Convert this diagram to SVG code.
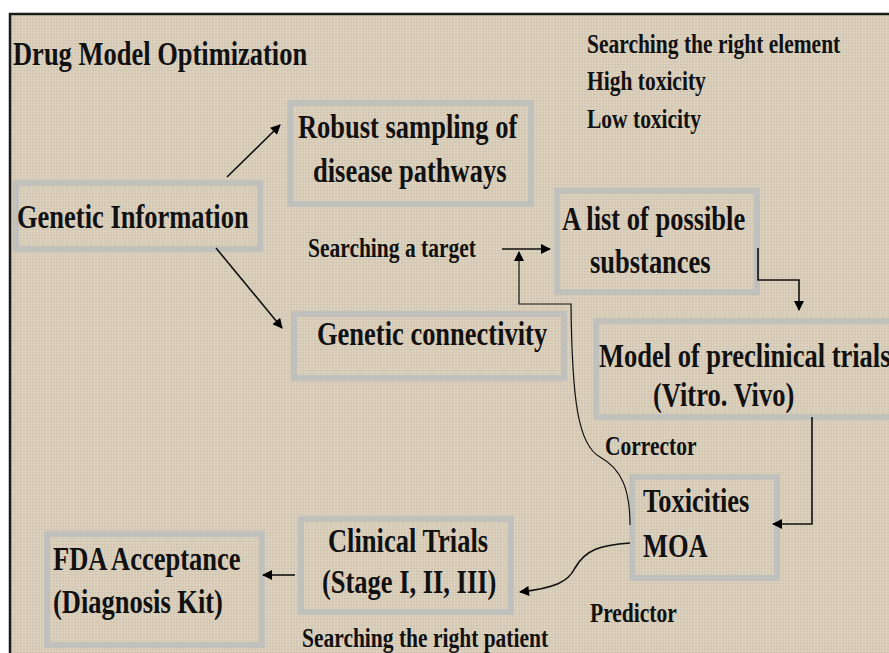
<svg xmlns="http://www.w3.org/2000/svg" width="889" height="653" viewBox="0 0 889 653">
  <defs>
    <pattern id="weave" width="6" height="6" patternUnits="userSpaceOnUse">
      <rect width="6" height="6" fill="#d8cdb9"/>
      <path d="M0 1.5H6M0 4.5H6" stroke="#c6b9a1" stroke-width="0.8" opacity="0.55"/>
      <path d="M1.5 0V6M4.5 0V6" stroke="#e4dbca" stroke-width="0.8" opacity="0.6"/>
    </pattern>
    <marker id="ah" viewBox="0 0 10 10" refX="9" refY="5" markerWidth="11" markerHeight="10" markerUnits="userSpaceOnUse" orient="auto">
      <path d="M0 0L10 5L0 10z" fill="#000"/>
    </marker>
  </defs>
  <style>
    .box { fill: none; stroke: #c0c0bd; stroke-width: 6; }
    .t { font-family: "Liberation Serif", "Times New Roman", serif; font-weight: bold; fill: #111; }
    .big { font-size: 26.5px; }
    .small { font-size: 21.5px; }
    .con { fill: none; stroke: #111; stroke-width: 1.6; }
    .thin { fill: none; stroke: #111; stroke-width: 1.2; }
  </style>
  <rect width="889" height="653" fill="#ffffff"/>
  <rect x="10" y="14" width="900" height="650" fill="url(#weave)" stroke="#1a1a1a" stroke-width="2.5"/>

  <text class="t big" transform="translate(13,65) scale(1,1.27)">Drug Model Optimization</text>

  <g id="notes">
    <text class="t small" transform="translate(587,53) scale(1,1.27)">Searching the right element</text>
    <text class="t small" transform="translate(587,90) scale(1,1.27)">High toxicity</text>
    <text class="t small" transform="translate(587,128) scale(1,1.27)">Low toxicity</text>
  </g>

  <g id="genetic-information">
    <rect class="box" x="16" y="183" width="244" height="66"/>
    <text class="t big" transform="translate(17,228) scale(1,1.27)">Genetic Information</text>
  </g>

  <g id="robust-sampling">
    <rect class="box" x="290" y="103" width="241" height="101"/>
    <text class="t big" transform="translate(298,138) scale(1,1.27)">Robust sampling of</text>
    <text class="t big" transform="translate(313,182) scale(1,1.27)">disease pathways</text>
  </g>

  <g id="genetic-connectivity">
    <rect class="box" x="294" y="314" width="270" height="64"/>
    <text class="t big" transform="translate(317,345) scale(1,1.27)">Genetic connectivity</text>
  </g>

  <g id="possible-substances">
    <rect class="box" x="557" y="191" width="200" height="101"/>
    <text class="t big" transform="translate(562,230) scale(1,1.27)">A list of possible</text>
    <text class="t big" transform="translate(590,273) scale(1,1.27)">substances</text>
  </g>

  <g id="preclinical-trials">
    <rect class="box" x="596" y="321" width="310" height="96"/>
    <text class="t big" transform="translate(599,367) scale(1,1.27)">Model of preclinical trials</text>
    <text class="t big" transform="translate(653,406) scale(1,1.27)">(Vitro. Vivo)</text>
  </g>

  <g id="toxicities-moa">
    <rect class="box" x="632" y="477" width="145" height="101"/>
    <text class="t big" transform="translate(643,512) scale(1,1.27)">Toxicities</text>
    <text class="t big" transform="translate(643,557) scale(1,1.27)">MOA</text>
  </g>

  <g id="clinical-trials">
    <rect class="box" x="301" y="519" width="210" height="93"/>
    <text class="t big" transform="translate(328,552) scale(1,1.27)">Clinical Trials</text>
    <text class="t big" transform="translate(322,593) scale(1,1.27)">(Stage I, II, III)</text>
  </g>

  <g id="fda-acceptance">
    <rect class="box" x="47" y="534" width="215" height="111"/>
    <text class="t big" transform="translate(53,570) scale(1,1.27)">FDA Acceptance</text>
    <text class="t big" transform="translate(53,613) scale(1,1.27)">(Diagnosis Kit)</text>
  </g>

  <g id="connectors">
    <path class="con" d="M227,177 L280,125" marker-end="url(#ah)"/>
    <path class="con" d="M216,248 L282,328" marker-end="url(#ah)"/>
    <path class="con" d="M502,249 H550" marker-end="url(#ah)"/>
    <path class="thin" d="M630,525 C630,490 622,469 600,457 C578,445 572,400 571,304 H519 V252" marker-end="url(#ah)"/>
    <path class="con" d="M758,248 V280 H799 V310" marker-end="url(#ah)"/>
    <path class="con" d="M812,417 V524 H773" marker-end="url(#ah)"/>
    <path class="con" d="M630,543 C600,545 585,550 575,568 C568,582 555,588 520,592" marker-end="url(#ah)"/>
    <path class="con" d="M295,575 H263" marker-end="url(#ah)"/>
  </g>

  <g id="labels">
    <text class="t small" transform="translate(308,257) scale(1,1.27)">Searching a target</text>
    <text class="t small" transform="translate(605,455) scale(1,1.27)">Corrector</text>
    <text class="t small" transform="translate(590,622) scale(1,1.27)">Predictor</text>
    <text class="t small" transform="translate(302,647) scale(1,1.27)">Searching the right patient</text>
  </g>
</svg>
